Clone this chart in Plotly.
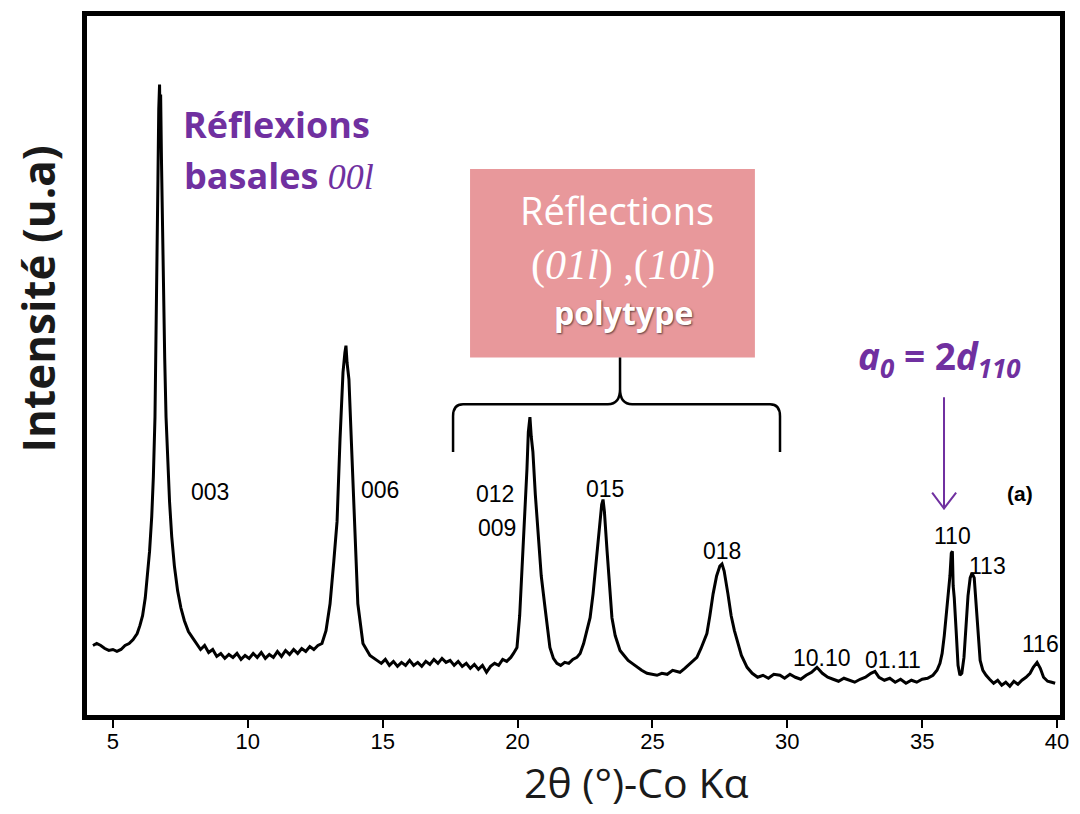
import plotly.graph_objects as go

# ---- data ----
two_theta = [
    4.26, 4.40, 4.55, 4.70, 4.85, 5.00, 5.15, 5.30, 5.45, 5.60, 5.75, 5.90, 6.00,
    6.10, 6.20, 6.28, 6.36, 6.44, 6.50, 6.56, 6.60, 6.64, 6.67, 6.70, 6.73, 6.75, 6.77, 6.80,
    6.84, 6.88, 6.92, 6.97, 7.03, 7.10, 7.18, 7.28, 7.40, 7.52, 7.65, 7.80, 7.95, 8.10,
    8.25, 8.40, 8.55, 8.70, 8.85, 9.00, 9.15, 9.30, 9.45, 9.60, 9.75, 9.90, 10.05, 10.20,
    10.35, 10.50, 10.65, 10.80, 10.95, 11.10, 11.25, 11.40, 11.55, 11.70, 11.85, 12.00,
    12.15, 12.30, 12.45, 12.60,
    12.75, 12.90, 13.05, 13.19, 13.31, 13.42, 13.53, 13.60, 13.64, 13.68, 13.75, 13.86,
    13.97, 14.08, 14.27, 14.53, 14.79,
    14.95, 15.10, 15.25, 15.40, 15.55, 15.70, 15.85, 16.00, 16.15, 16.30, 16.45, 16.60,
    16.75, 16.90, 17.05, 17.20, 17.35, 17.50, 17.65, 17.80, 17.95, 18.10, 18.25, 18.40,
    18.55, 18.70, 18.85, 19.00, 19.15, 19.30, 19.45, 19.60, 19.75, 19.85,
    19.98, 20.08, 20.20, 20.28, 20.35, 20.40, 20.46, 20.51, 20.57, 20.66, 20.76, 20.88,
    21.02, 21.12, 21.20, 21.33, 21.46, 21.60, 21.75, 21.90, 22.05, 22.20, 22.32,
    22.45, 22.58, 22.69, 22.80, 22.88, 22.95, 23.05, 23.12, 23.17, 23.22, 23.32, 23.42,
    23.50, 23.62, 23.80, 23.95, 24.10, 24.25, 24.43, 24.60, 24.80, 25.00, 25.17, 25.35,
    25.55, 25.75, 26.02, 26.20, 26.40, 26.55, 26.65,
    26.80, 26.92, 27.02, 27.13, 27.25, 27.38, 27.50, 27.58, 27.66, 27.80, 27.92, 28.04,
    28.14, 28.30, 28.51, 28.70, 28.90, 29.10, 29.30, 29.50, 29.73,
    29.90, 30.10, 30.30, 30.50, 30.70, 30.90, 31.10, 31.30, 31.50, 31.70, 31.90, 32.10,
    32.30, 32.50, 32.70, 32.90, 33.10, 33.25, 33.40, 33.60, 33.80, 34.00, 34.20, 34.40,
    34.60, 34.80, 35.00, 35.20, 35.40,
    35.55, 35.66, 35.74, 35.82, 35.89, 35.96, 36.03, 36.08, 36.12, 36.15, 36.19, 36.26,
    36.33, 36.40, 36.47, 36.55, 36.63, 36.70, 36.78, 36.85, 36.93, 37.00, 37.07, 37.15,
    37.25, 37.37,
    37.50, 37.65, 37.80, 37.95, 38.10, 38.25, 38.40, 38.55, 38.70, 38.85, 39.00, 39.12,
    39.26, 39.38, 39.50, 39.65, 39.80, 39.93,
]
intensity = [
    70, 72, 70, 67, 65, 66, 64, 66, 70, 72, 76, 82, 90,
    100, 118, 138, 165, 200, 240, 300, 370, 450, 540, 610, 635, 590, 625, 560,
    480, 420, 360, 300, 250, 215, 180, 150, 125, 108, 95, 84, 78, 72,
    66, 70, 63, 66, 59, 62, 57, 61, 58, 62, 56, 60, 57, 62,
    58, 63, 57, 61, 58, 64, 59, 65, 61, 66, 62, 67,
    64, 69, 66, 70,
    72, 85, 112, 155, 195, 278, 345, 365, 372, 355, 338, 262,
    178, 112, 72, 60, 55,
    52, 56, 50, 54, 49, 53, 50, 55, 50, 53, 49, 54,
    51, 56, 52, 57, 53, 55, 50, 54, 49, 52, 47, 51,
    46, 50, 43, 49, 52, 50, 56, 54, 58, 62,
    68, 100, 162, 215, 248, 285, 300, 280, 265, 222, 182, 140,
    108, 85, 68, 57, 52, 50, 53, 52, 56, 58, 62,
    72, 85, 98, 122, 145, 165, 195, 212, 217, 205, 165, 125,
    98, 80, 65, 60, 55, 52, 48, 45, 42, 41, 40, 42,
    41, 45, 43, 47, 52, 55, 58,
    67, 75, 82, 100, 122, 140, 150, 152, 145, 122, 100, 85,
    75, 60, 48, 42, 38, 40, 37, 41, 40,
    37, 41, 38, 36, 40, 43, 48, 42, 38, 36, 34, 37,
    35, 33, 36, 38, 42, 44, 38, 35, 37, 33, 36, 32,
    35, 33, 36, 37, 40,
    45, 52, 62, 80, 100, 118, 140, 163, 165, 130, 118, 85,
    50, 40, 42, 58, 90, 120, 138, 143, 138, 108, 78, 55,
    45, 40,
    36, 32, 35, 30, 33, 29, 34, 31, 35, 38, 42, 48,
    53, 47, 38, 34, 33, 32,
]

x_ticks = [5, 10, 15, 20, 25, 30, 35, 40]

peak_labels = ["003", "006", "012", "009", "015", "018", "10.10", "01.11", "110", "113", "116"]
peak_label_x = [8.60, 14.90, 19.16, 19.24, 23.24, 27.58, 31.29, 33.92, 36.11, 37.41, 39.37]
peak_label_y = [225, 227, 223, 188, 228, 165, 57, 55, 180, 150, 72]

PURPLE = "#7030A0"
PINK = "#E8989B"
SANS = "Open Sans"

fig = go.Figure()
fig.add_trace(go.Scatter(
    x=two_theta, y=intensity, mode="lines",
    line=dict(color="black", width=3), hoverinfo="skip", showlegend=False,
))


def ann(x, y, text, font, xref="x", yref="y", **kw):
    d = dict(x=x, y=y, xref=xref, yref=yref, text=text, showarrow=False,
             xanchor="center", yanchor="middle", font=font)
    d.update(kw)
    return d


annotations = []
for t, x, y in zip(peak_labels, peak_label_x, peak_label_y):
    annotations.append(ann(x, y, t, dict(family="Liberation Sans, Arial", size=23, color="black")))
annotations.append(ann(38.63, 223, "<b>(a)</b>", dict(family="Liberation Sans, Arial", size=21, color="black")))

# purple text
annotations.append(ann(11.08, 595, "<b>Réflexions</b>", dict(family=SANS, size=36, color=PURPLE)))
annotations.append(ann(11.15, 543,
                       "<b>basales </b><span style='font-family:Liberation Serif'><i>00l</i></span>",
                       dict(family=SANS, size=36, color=PURPLE)))
annotations.append(ann(35.63, 360,
                       "<b><i>a</i><sub><i>0</i></sub> = 2<i>d</i><sub><i>110</i></sub></b>",
                       dict(family=SANS, size=37, color=PURPLE)))

# pink box texts
annotations.append(ann(23.69, 509, "Réflections", dict(family=SANS, size=38, color="white")))
annotations.append(ann(23.91, 453, "(<i>01l</i>) ,(<i>10l</i>)",
                       dict(family="Liberation Serif", size=42, color="white")))
annotations.append(ann(23.91, 405, "<b>polytype</b>",
                       dict(family=SANS, size=32, color="white",
                            shadow="1px 1px 2px rgba(0,0,0,0.6)")))

# axis titles (paper coordinates)
annotations.append(ann(0.565, -0.0952, "2θ (°)-Co Kα",
                       dict(family=SANS, size=41, color="#1a1a1a"), xref="paper", yref="paper"))
annotations.append(ann(-0.05, 0.595, "<b>Intensité (u.a)</b>",
                       dict(family=SANS, size=44, color="#1a1a1a"),
                       xref="paper", yref="paper", textangle=-90))

shapes = [
    dict(type="rect", xref="x", yref="y", x0=18.24, x1=28.80, y0=360, y1=550,
         fillcolor=PINK, line=dict(width=0), layer="below"),
    dict(type="path", xref="x", yref="y",
         path=("M 17.61,265 L 17.61,301 Q 17.61,313 17.98,313 L 23.35,313 Q 23.80,313 23.80,328 "
               "L 23.80,360 M 23.80,328 Q 23.80,313 24.25,313 L 29.36,313 Q 29.73,313 29.73,301 "
               "L 29.73,265"),
         line=dict(color="black", width=2.5)),
    # purple arrow
    dict(type="path", xref="x", yref="y",
         path="M 35.81,320 L 35.81,208 M 35.37,224 L 35.81,208 L 36.26,224",
         line=dict(color=PURPLE, width=2)),
]

# the page adds an 8 px body margin, so the figure is 8 px smaller than the window
fig.update_layout(
    width=1072, height=806,
    margin=dict(l=79, r=20, t=3, b=99),
    paper_bgcolor="white", plot_bgcolor="white",
    annotations=annotations, shapes=shapes,
    xaxis=dict(range=[4.04, 40.11], tickvals=x_ticks, ticks="outside", ticklen=8, tickwidth=2,
               tickcolor="black", showgrid=False, zeroline=False,
               showline=True, linewidth=5, linecolor="black", mirror=True,
               ticklabelstandoff=-5,
               tickfont=dict(family="Liberation Sans, Arial", size=22, color="black")),
    yaxis=dict(range=[0, 704], showticklabels=False, ticks="", showgrid=False, zeroline=False,
               showline=True, linewidth=5, linecolor="black", mirror=True),
)

fig.write_html("out.html")
